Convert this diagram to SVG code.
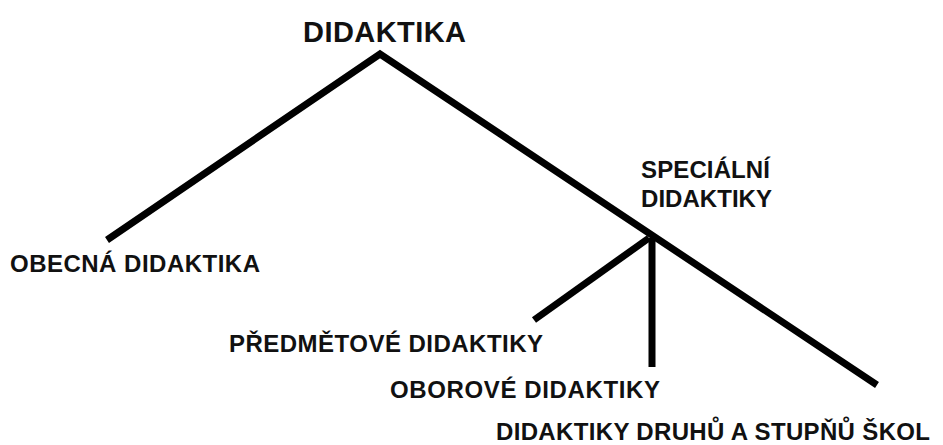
<svg xmlns="http://www.w3.org/2000/svg" width="943" height="445" viewBox="0 0 943 445">
<style>
text{font-family:"Liberation Sans",Arial,sans-serif;font-weight:bold;fill:#111;font-size:24px}
.t{font-size:29px}
.c{stroke:#000;stroke-width:7;fill:none;stroke-linecap:butt;stroke-linejoin:miter}
</style>
<rect width="943" height="445" fill="#fff"/>
<g id="connectors">
<polyline class="c" points="107,240 380,54 877,385"/>
<polyline class="c" points="534,320 649,238"/>
<line class="c" x1="652" y1="238" x2="652" y2="367"/>
</g>
<g id="didaktika"><text class="t" x="303" y="42" textLength="163">DIDAKTIKA</text></g>
<g id="obecna"><text x="10" y="272" textLength="250">OBECNÁ DIDAKTIKA</text></g>
<g id="specialni"><text x="641" y="178" textLength="129">SPECIÁLNÍ</text><text x="641" y="207" textLength="131">DIDAKTIKY</text></g>
<g id="predmetove"><text x="229" y="352" textLength="314">PŘEDMĚTOVÉ DIDAKTIKY</text></g>
<g id="oborove"><text x="390" y="398" textLength="270">OBOROVÉ DIDAKTIKY</text></g>
<g id="druhu"><text x="496" y="440" textLength="434">DIDAKTIKY DRUHŮ A STUPŇŮ ŠKOL</text></g>
</svg>
